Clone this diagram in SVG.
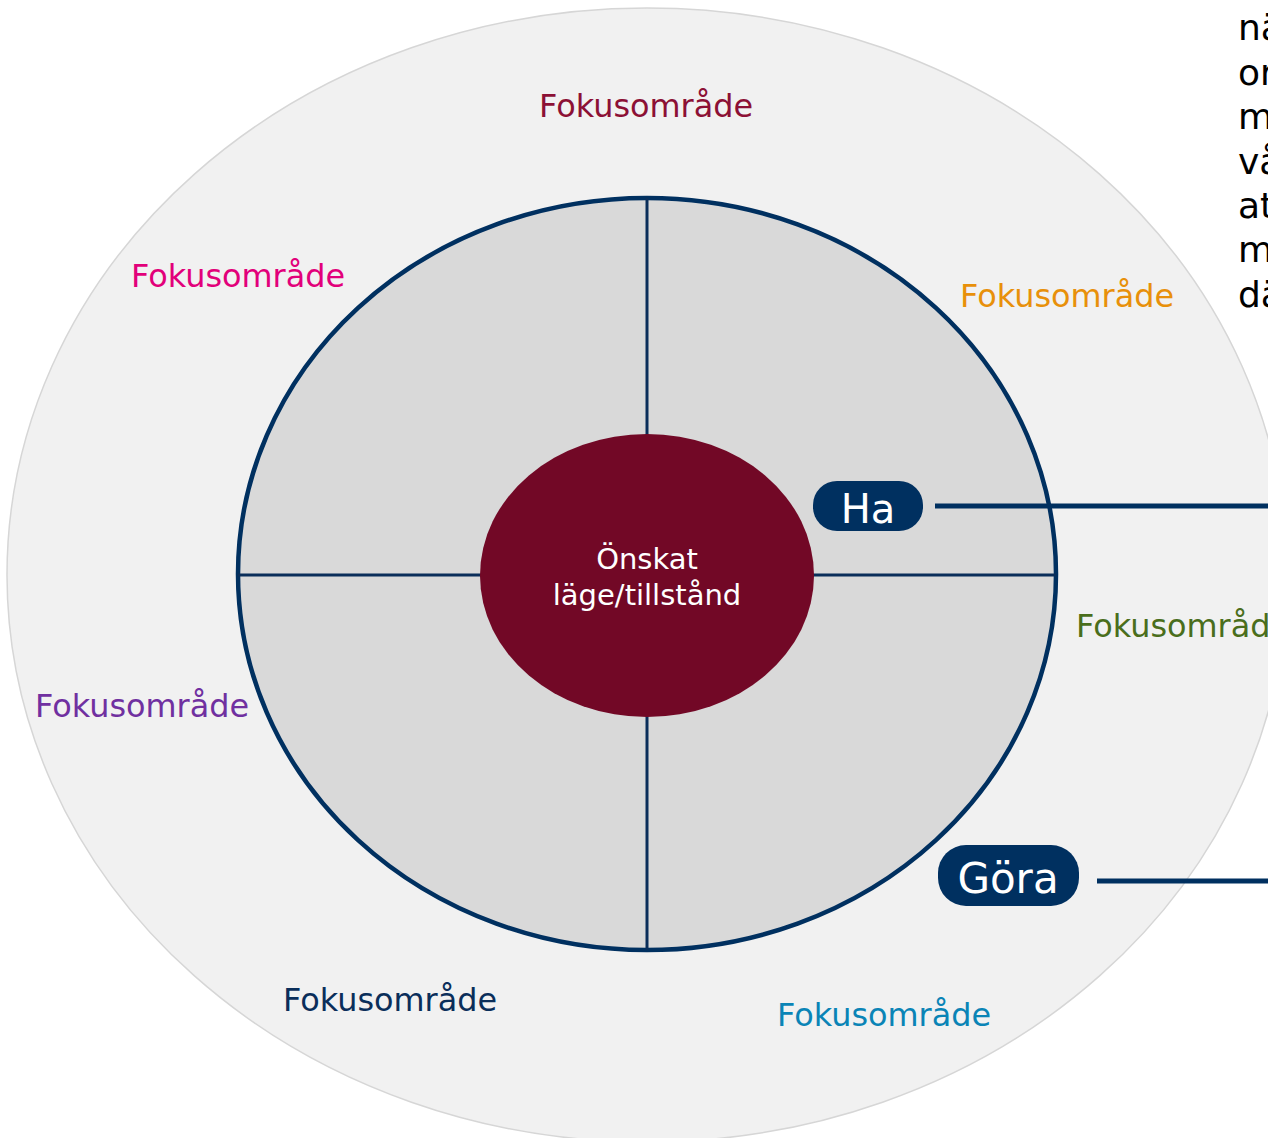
<svg xmlns="http://www.w3.org/2000/svg" width="1268" height="1138" viewBox="0 0 1268 1138">
<style>
.lbl{font-family:"DejaVu Sans","Verdana",sans-serif;font-size:31.9px}
.ctr{font-family:"DejaVu Sans",sans-serif;font-size:29px;fill:#ffffff;text-anchor:middle}
.tag{font-family:"DejaVu Sans",sans-serif;fill:#ffffff;text-anchor:middle}
.side{font-family:"DejaVu Sans",sans-serif;font-size:36px;fill:#000000}
.div{stroke:#0a2e5a;stroke-width:3;fill:none}
.conn{stroke:#003060;stroke-width:5;fill:none}
</style>
<rect width="1268" height="1138" fill="#ffffff"/>
<g id="outer">
<ellipse cx="647" cy="575" rx="640" ry="567" fill="#f1f1f1" stroke="#d6d6d6" stroke-width="1.5"/>
</g>
<g id="side-text">
<text class="side" x="1238" y="40">nä</text>
<text class="side" x="1238" y="85">or</text>
<text class="side" x="1238" y="129">m</text>
<text class="side" x="1238" y="174">vå</text>
<text class="side" x="1238" y="218">at</text>
<text class="side" x="1238" y="262">m</text>
<text class="side" x="1238" y="307">dä</text>
</g>
<g id="inner">
<ellipse cx="647" cy="574" rx="409" ry="376" fill="#d9d9d9" stroke="#003060" stroke-width="4.5"/>
</g>
<g id="dividers">
<line class="div" x1="647" y1="198" x2="647" y2="436"/>
<line class="div" x1="647" y1="715" x2="647" y2="950"/>
<line class="div" x1="238" y1="575" x2="482" y2="575"/>
<line class="div" x1="812" y1="575" x2="1056" y2="575"/>
</g>
<g id="center">
<ellipse cx="647" cy="575.5" rx="167" ry="141.5" fill="#720826"/>
<text class="ctr" x="647" y="569">Önskat</text>
<text class="ctr" x="647" y="605">läge/tillstånd</text>
</g>
<g id="connectors">
<line class="conn" x1="935" y1="506" x2="1268" y2="506"/>
<line class="conn" x1="1097" y1="881" x2="1268" y2="881"/>
</g>
<g id="ha">
<rect x="813" y="481" width="110" height="50" rx="24" fill="#003060"/>
<text class="tag" x="868" y="523" font-size="40">Ha</text>
</g>
<g id="gora">
<rect x="938" y="845" width="141" height="61" rx="28" fill="#003060"/>
<text class="tag" x="1008" y="893" font-size="42">Göra</text>
</g>
<g id="focus-labels">
<text class="lbl" x="539" y="117" fill="#8c1035">Fokusområde</text>
<text class="lbl" x="131" y="287" fill="#e2007a">Fokusområde</text>
<text class="lbl" x="960" y="307" fill="#e8900a">Fokusområde</text>
<text class="lbl" x="1076" y="637" fill="#4a6e1c">Fokusområde</text>
<text class="lbl" x="35" y="717" fill="#7030a0">Fokusområde</text>
<text class="lbl" x="283" y="1011" fill="#0a2e5a">Fokusområde</text>
<text class="lbl" x="777" y="1026" fill="#0a84b6">Fokusområde</text>
</g>
</svg>
